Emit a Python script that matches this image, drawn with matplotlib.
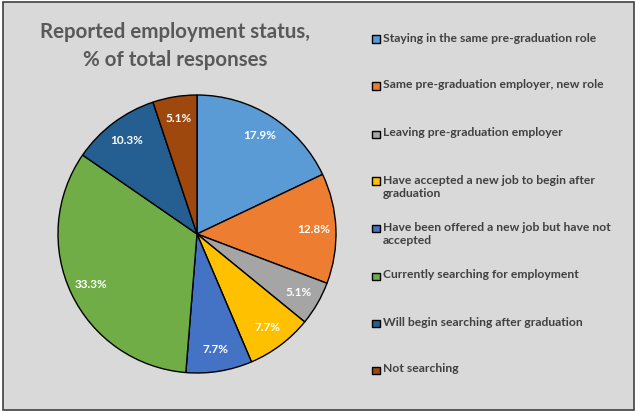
import matplotlib.pyplot as plt
from matplotlib.patches import Rectangle

# Daten
categories = [
    "Staying in the same pre-graduation role",
    "Same pre-graduation employer, new role",
    "Leaving pre-graduation employer",
    "Have accepted a new job to begin after\ngraduation",
    "Have been offered a new job but have not\naccepted",
    "Currently searching for employment",
    "Will begin searching after graduation",
    "Not searching",
]
responses = [7, 5, 2, 3, 3, 13, 4, 2]
colors = ["#5B9BD5", "#ED7D31", "#A5A5A5", "#FFC000",
          "#4472C4", "#70AD47", "#255E91", "#9E480E"]

plt.rcParams['font.family'] = ['Lato', 'DejaVu Sans']

fig = plt.figure(figsize=(6.38, 4.12), dpi=100)
fig.patch.set_facecolor("white")

# Hintergrund mit Rahmen
bg = Rectangle((3 / 638, 2 / 412), 631 / 638, 408 / 412, transform=fig.transFigure,
               facecolor="#D9D9D9", edgecolor="#404040", linewidth=1.2, zorder=-5)
fig.patches.append(bg)

ax = fig.add_axes([(197 - 139) / 638, (412 - 234 - 139) / 412, 278 / 638, 278 / 412])
wedges, texts, autotexts = ax.pie(
    responses, colors=colors, startangle=90, counterclock=False,
    autopct="%1.1f%%", pctdistance=0.84,
    wedgeprops=dict(edgecolor="black", linewidth=1.0),
    textprops=dict(color="white", fontsize=8.5, fontweight="bold"))
ax.set_xlim(-1.0, 1.0)
ax.set_ylim(-1.0, 1.0)
ax.set_aspect("equal")

fig.text(175 / 638, 1 - 46 / 412, "Reported employment status,\n% of total responses",
         ha="center", va="center", fontsize=14.8, fontweight="bold",
         color="#595959", linespacing=1.45)

# Legende
legend_y = [39, 86, 134, 181, 228, 276, 323, 370]
for lab, col, y in zip(categories, colors, legend_y):
    fig.patches.append(Rectangle((372 / 638, 1 - (y + 4) / 412), 7.5 / 638, 7.5 / 412,
                                 transform=fig.transFigure, facecolor=col,
                                 edgecolor="black", linewidth=1.0))
    fig.text(383 / 638, 1 - (y - 6.5) / 412, lab, ha="left", va="top", fontsize=8.7,
             fontweight="bold", color="#404040", linespacing=1.3)

fig.savefig("out.png", dpi=100, facecolor=fig.get_facecolor())
